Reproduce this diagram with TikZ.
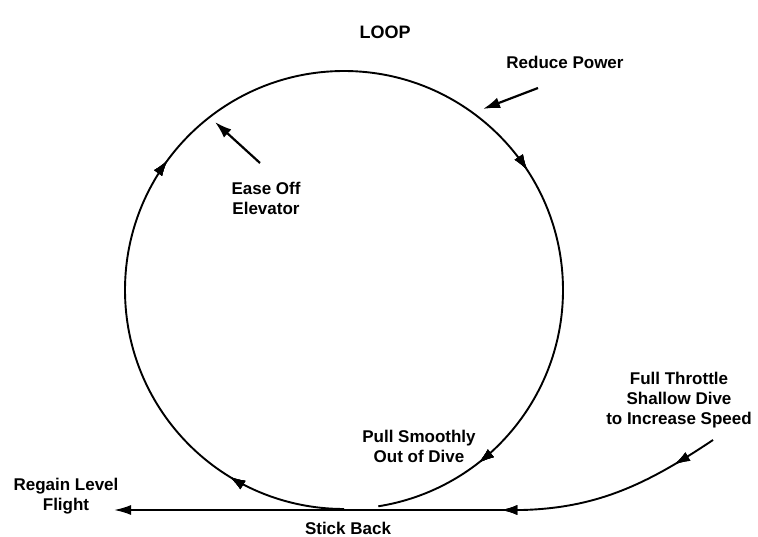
\documentclass[tikz,border=0pt]{standalone}
\usepackage{fontspec}
\setmainfont{Liberation Sans}
\usepackage{tikz}
\usetikzlibrary{arrows.meta,decorations.markings}
\tikzstyle{caption} = [font=\bfseries\fontsize{17}{20}\selectfont, align=center, inner sep=0pt]
\tikzstyle{pointer} = [draw, line width=2.2pt, -{Latex[length=17pt,width=11pt]}]
\tikzstyle{flight} = [draw, line width=1.9pt]
\tikzstyle{midarrow} = [postaction={decorate}, decoration={markings,
    mark=at position #1 with {\arrow{Latex[length=16pt,width=10pt]}}}]

\begin{document}
\begin{tikzpicture}[x=1pt, y=-1pt]
    \useasboundingbox (0,0) rectangle (758,537);
    % Place nodes
    % Title
    \node [caption, font=\bfseries\fontsize{18}{20}\selectfont] (title) at (385,32) {LOOP};

    % Labels
    \node [caption] (reduce) at (565,62) {Reduce Power};
    \node [caption] (ease) at (266,198) {Ease Off\\Elevator};
    \node [caption] (pull) at (419,446) {Pull Smoothly\\Out of Dive};
    \node [caption] (full) at (679,400) {Full Throttle\\Shallow Dive\\to Increase Speed};
    \node [caption] (regain) at (66,496) {Regain Level\\Flight};
    \node [caption] (stick) at (348,528) {Stick Back};

    % Points on the flight path
    \coordinate (bottom) at (344,509);
    \coordinate (entry) at (713,440);
    \coordinate (join) at (522,510);
    \coordinate (exit) at (114,510);
    \coordinate (rptail) at (538,88);
    \coordinate (rptip) at (483,109);
    \coordinate (eotail) at (260,163);
    \coordinate (eotip) at (215,122);

    % Draw edges
    % Loop
    \path [flight, midarrow=0.09, midarrow=0.36, midarrow=0.675, midarrow=0.918]
        (bottom) arc [start angle=270, end angle=-81, radius=219pt];

    % Entry and level flight
    \path [flight, midarrow=0.075, midarrow=0.37, -{Latex[length=17pt,width=10pt]}]
        (entry) .. controls (650,482) and (600,508) .. (join) -- (exit);

    % Pointers
    \path [pointer] (rptail) -- (rptip);
    \path [pointer] (eotail) -- (eotip);

\end{tikzpicture}
\end{document}
